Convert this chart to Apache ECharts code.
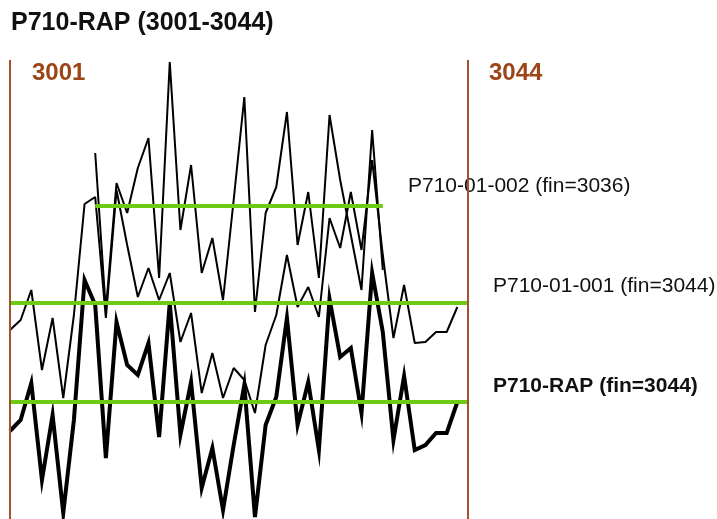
<!DOCTYPE html>
<html>
<head>
<meta charset="utf-8">
<script src="https://cdn.jsdelivr.net/npm/echarts@6/dist/echarts.min.js"></script>
<style>
  html, body { margin: 0; padding: 0; background: #ffffff; }
  #chart { width: 717px; height: 519px; }
</style>
</head>
<body>
<div id="chart"></div>
<script>
// Lot numbers along the run
const lots = ['3001','3002','3003','3004','3005','3006','3007','3008','3009','3010',
              '3011','3012','3013','3014','3015','3016','3017','3018','3019','3020',
              '3021','3022','3023','3024','3025','3026','3027','3028','3029','3030',
              '3031','3032','3033','3034','3035','3036','3037','3038','3039','3040',
              '3041','3042','3043','3044'];

// Composite tool trace
const rapValues = [88, 99, 136, 39, 104, 6, 99, 239, 214, 61,
                   197, 154, 144, 176, 82, 216, 84, 137, 31, 71,
                   9, 74, 134, 2, 94, 122, 201, 94, 137, 69,
                   220, 162, 171, 106, 246, 187, 79, 143, 69, 74,
                   86, 86, 117, null];

// Chamber 01-001 trace
const p001Values = [189, 199, 229, 149, 201, 121, 204, 315, 322, 201,
                    329, 274, 222, 251, 219, 246, 177, 206, 126, 166,
                    121, 151, 139, 106, 174, 204, 264, 212, 232, 202,
                    301, 271, 327, 269, 359, 264, 181, 234, 176, 177,
                    187, 187, 212, null];

// Chamber 01-002 trace (runs 3009 to 3036)
const p002Values = [null, null, null, null, null, null, null, null, 366, 209,
                    336, 306, 351, 381, 241, 457, 289, 354, 246, 281,
                    219, 319, 422, 207, 306, 332, 407, 274, 327, 241,
                    404, 339, 284, 229, 389, 249, null, null, null, null,
                    null, null, null, null];

const seriesNames = ['P710-RAP', 'P710-01-001', 'P710-01-002'];
const finLots = ['3044', '3044', '3036'];
const boundaryLots = ['3001', '3044'];
const chartTitle = 'P710-RAP (3001-3044)';

const FONT = '"Liberation Sans", Arial, Helvetica, sans-serif';
const GREEN = '#6ccc14';
const BROWN = '#a4522a';
const BROWN_TEXT = '#9c4519';

function meanOf(arr) {
  const v = arr.filter(x => x != null);
  return v.reduce((a, b) => a + b, 0) / v.length;
}
function firstLot(arr) {
  return lots[arr.findIndex(x => x != null)];
}

// Horizontal level line at the series mean, from its first lot to its final lot
function levelLine(values, fin) {
  const m = meanOf(values);
  return {
    silent: true,
    symbol: 'none',
    label: { show: false },
    lineStyle: { color: GREEN, width: 4, type: 'solid', opacity: 1 },
    emphasis: { disabled: true },
    z: 5,
    data: [[{ coord: [firstLot(values), m] }, { coord: [fin, m] }]]
  };
}

const chart = echarts.init(document.getElementById('chart'), null, { renderer: 'canvas' });

chart.setOption({
  animation: false,
  backgroundColor: '#ffffff',
  grid: { left: 10, right: 249, top: 60, bottom: 0, containLabel: false },
  xAxis: {
    type: 'category',
    data: lots,
    boundaryGap: false,
    show: false
  },
  yAxis: {
    type: 'value',
    min: 0,
    max: 459,
    show: false
  },
  series: [
    {
      name: seriesNames[2],
      type: 'line',
      data: p002Values,
      symbol: 'none',
      lineStyle: { color: '#000000', width: 2 },
      markLine: levelLine(p002Values, finLots[2]),
      z: 3
    },
    {
      name: seriesNames[1],
      type: 'line',
      data: p001Values,
      symbol: 'none',
      lineStyle: { color: '#000000', width: 2 },
      markLine: levelLine(p001Values, finLots[1]),
      z: 3
    },
    {
      name: seriesNames[0],
      type: 'line',
      data: rapValues,
      symbol: 'none',
      lineStyle: { color: '#000000', width: 4, join: 'miter' },
      markLine: levelLine(rapValues, finLots[0]),
      z: 4
    },
    {
      // boundary lots shown as vertical rules
      type: 'line',
      data: [],
      markLine: {
        silent: true,
        symbol: 'none',
        label: { show: false },
        lineStyle: { color: BROWN, width: 2, type: 'solid' },
        data: boundaryLots.map(l => ({ xAxis: l }))
      },
      z: 2
    }
  ],
  graphic: [
    { type: 'text', left: 11, top: 11,
      style: { text: chartTitle, font: 'bold 25px ' + FONT, fill: '#111111' } },
    { type: 'text', left: 32, top: 61,
      style: { text: boundaryLots[0], font: 'bold 24px ' + FONT, fill: BROWN_TEXT } },
    { type: 'text', left: 489, top: 61,
      style: { text: boundaryLots[1], font: 'bold 24px ' + FONT, fill: BROWN_TEXT } },
    { type: 'text', left: 408, top: 176,
      style: { text: seriesNames[2] + ' (fin=' + finLots[2] + ')', font: '21px ' + FONT, fill: '#111111' } },
    { type: 'text', left: 493, top: 276,
      style: { text: seriesNames[1] + ' (fin=' + finLots[1] + ')', font: '21px ' + FONT, fill: '#111111' } },
    { type: 'text', left: 493, top: 376,
      style: { text: seriesNames[0] + ' (fin=' + finLots[0] + ')', font: 'bold 21px ' + FONT, fill: '#111111' } }
  ]
});
</script>
</body>
</html>
